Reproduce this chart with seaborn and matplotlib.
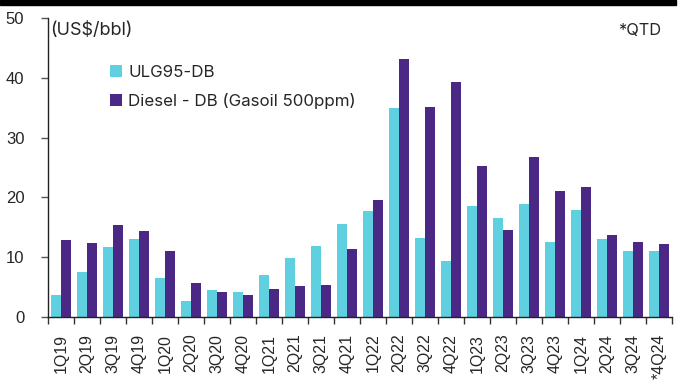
import numpy as np
import pandas as pd
import matplotlib
matplotlib.use("Agg")
import matplotlib.pyplot as plt
from matplotlib.patches import Rectangle
import seaborn as sns

quarters = ["1Q19", "2Q19", "3Q19", "4Q19", "1Q20", "2Q20", "3Q20", "4Q20",
            "1Q21", "2Q21", "3Q21", "4Q21", "1Q22", "2Q22", "3Q22", "4Q22",
            "1Q23", "2Q23", "3Q23", "4Q23", "1Q24", "2Q24", "3Q24", "*4Q24"]
ulg95_db = [3.7, 7.5, 11.7, 13.0, 6.6, 2.6, 4.5, 4.1,
            7.1, 9.9, 11.8, 15.5, 17.8, 35.0, 13.2, 9.4,
            18.6, 16.6, 18.9, 12.5, 17.9, 13.1, 11.1, 11.0]
diesel_db = [12.8, 12.4, 15.4, 14.3, 11.0, 5.7, 4.1, 3.7,
             4.7, 5.2, 5.4, 11.4, 19.5, 43.1, 35.1, 39.3,
             25.2, 14.6, 26.8, 21.1, 21.7, 13.7, 12.6, 12.2]
series_names = ["ULG95-DB", "Diesel - DB (Gasoil 500ppm)"]
colors = ["#5ED0DF", "#4B2885"]

df = pd.DataFrame({
    "quarter": quarters * 2,
    "value": ulg95_db + diesel_db,
    "series": [series_names[0]] * len(quarters) + [series_names[1]] * len(quarters),
})

sns.set_style("white")
plt.rcParams["font.family"] = ["Liberation Sans", "DejaVu Sans"]

fig = plt.figure(figsize=(6.88, 3.88), dpi=100)
ax = fig.add_axes([48 / 688, 1 - 317 / 388, 624 / 688, 299 / 388])

sns.barplot(data=df, x="quarter", y="value", hue="series", order=quarters,
            hue_order=series_names, palette=colors, width=0.8, gap=0,
            saturation=1, linewidth=0, ax=ax)

ax.set_ylim(0, 50)
ax.set_xlim(-0.5, len(quarters) - 0.5)
ax.set_yticks([0, 10, 20, 30, 40, 50])
ax.set_xlabel("")
ax.set_ylabel("")

for side in ["top", "right"]:
    ax.spines[side].set_visible(False)
for side in ["left", "bottom"]:
    ax.spines[side].set_color("#222222")
    ax.spines[side].set_linewidth(1.0)

# Category separators on the x axis, labels centred on each pair
ax.set_xticks(np.arange(len(quarters)))
ax.set_xticklabels(quarters, rotation=90, fontsize=11.5)
ax.set_xticks(np.arange(len(quarters) + 1) - 0.5, minor=True)
ax.tick_params(axis="x", which="major", length=0, pad=12)
ax.tick_params(axis="x", which="minor", length=5, width=1, color="#333333",
               direction="out", bottom=True)
ax.tick_params(axis="y", length=5, width=1, color="#555555", direction="out",
               left=True, labelsize=12, pad=12)

leg = ax.legend(loc="upper left", bbox_to_anchor=(0.075, 0.895), frameon=False,
                handlelength=0.72, handleheight=0.72, handletextpad=0.35,
                labelspacing=0.78, prop={"family": "Inter", "size": 12.2})

ax.text(0.003, 0.957, "(US$/bbl)", transform=ax.transAxes, fontsize=13,
        ha="left", va="center", family="Inter")
ax.text(0.982, 0.957, "*QTD", transform=ax.transAxes, fontsize=11.8,
        ha="right", va="center", family="Inter")

# Header rule across the top of the figure
fig.patches.append(Rectangle((0, 1 - 5 / 388), 676 / 688, 5 / 388,
                             transform=fig.transFigure, color="black",
                             zorder=5))

fig.savefig("out.png", dpi=100)
